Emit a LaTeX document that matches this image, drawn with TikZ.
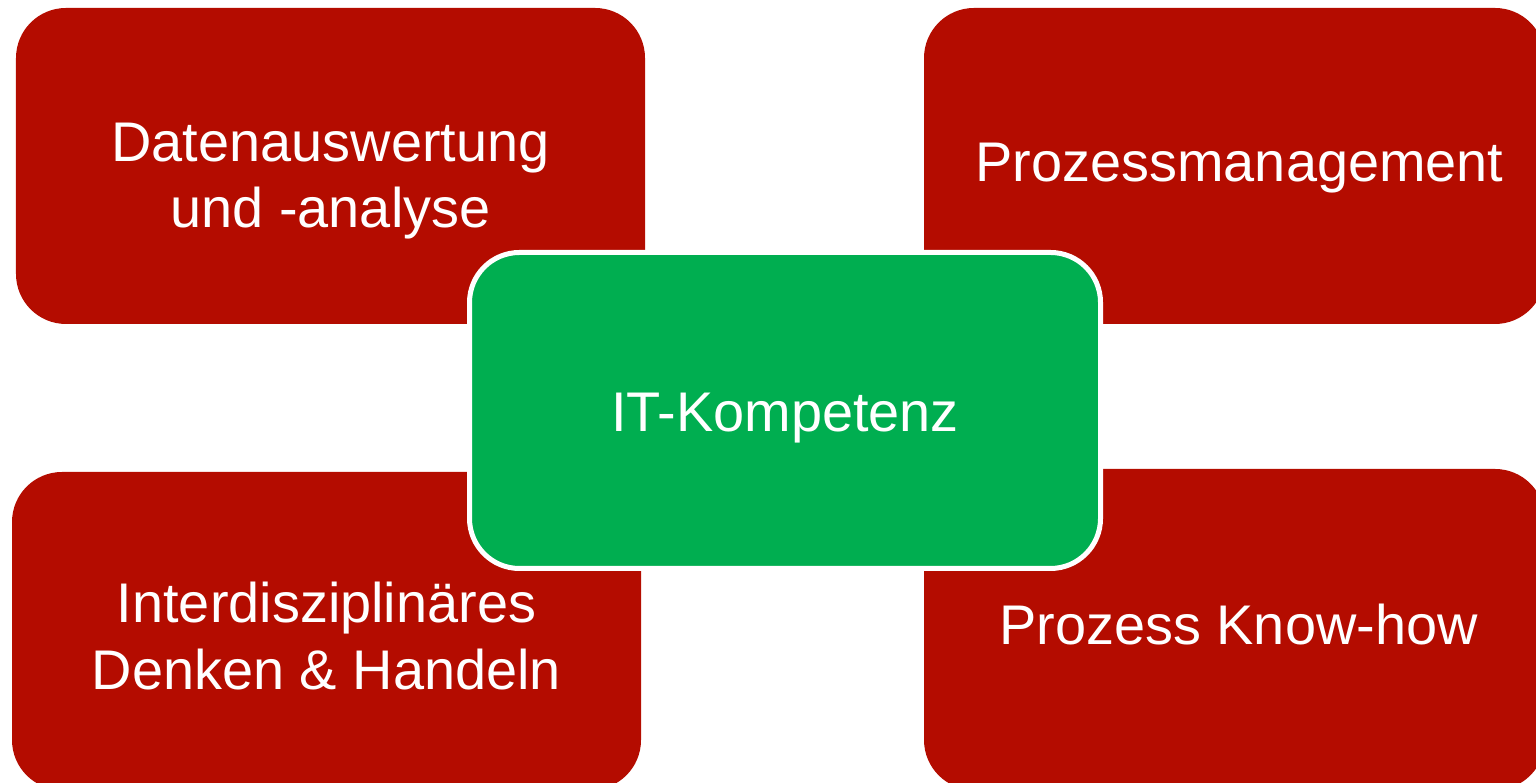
\documentclass[tikz,border=0pt]{standalone}
\usepackage{fontspec}
\setmainfont{Liberation Sans}
\usepackage{tikz}
\usetikzlibrary{positioning}

\begin{document}
\begin{tikzpicture}[
    field/.style={rectangle, fill=fieldcolor, rounded corners=0.5cm, minimum width=6.29cm, minimum height=3.16cm, inner sep=0pt},
    core/.style={rectangle, fill=corecolor, draw=white, line width=0.05cm, rounded corners=0.5cm, minimum width=6.31cm, minimum height=3.16cm, inner sep=0pt},
    caption/.style={align=center, text=white, inner sep=0pt, font=\fontsize{15.9pt}{18.9pt}\selectfont}
]

% Define colors
\definecolor{fieldcolor}{RGB}{180,12,0}      % Dark Red
\definecolor{corecolor}{RGB}{0,174,80}       % Green

\useasboundingbox (0,0) rectangle (15.36,7.83);
\clip (0,0) rectangle (15.36,7.83);

% Outer fields
\node[field] (auswertung) at (3.305,6.17) {};
\node[field, minimum width=6.21cm] (management) at (12.345,6.17) {};
\node[field, minimum height=3.18cm] (denken) at (3.265,1.52) {};
\node[field, minimum width=6.21cm, minimum height=3.21cm] (knowhow) at (12.345,1.535) {};

% Field texts
\node[caption] (auswertungtext) at ([yshift=-0.15cm]auswertung.center) {Datenauswertung\\und -analyse};
\node[caption] (managementtext) at ([xshift=0.05cm, yshift=-0.02cm]management.center) {Prozessmanagement};
\node[caption] (denkentext) at ([yshift=-0.05cm]denken.center) {Interdisziplinäres\\Denken \& Handeln};
\node[caption] (knowhowtext) at ([xshift=0.04cm, yshift=0.05cm]knowhow.center) {Prozess Know-how};

% Center
\node[core] (kompetenz) at (7.85,3.725) {};
\node[caption] (kompetenztext) at ([yshift=-0.08cm]kompetenz.center) {IT-Kompetenz};

\end{tikzpicture}
\end{document}
